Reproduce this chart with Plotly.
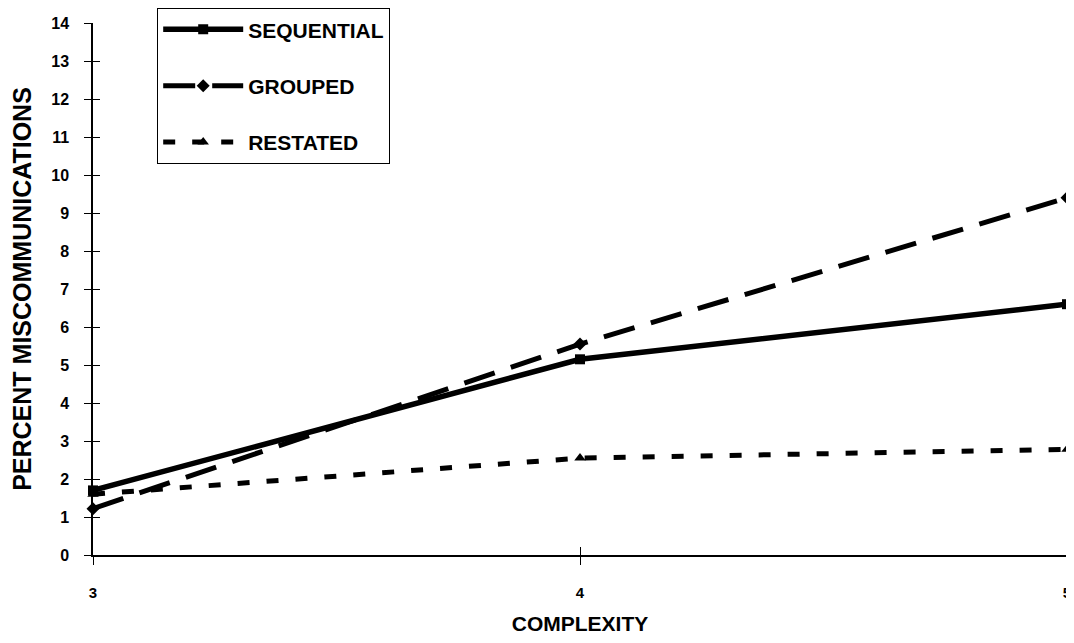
import plotly.graph_objects as go

complexity = [3, 4, 5]
sequential = [1.7, 5.15, 6.6]
grouped = [1.22, 5.55, 9.4]
restated = [1.6, 2.55, 2.78]
y_ticks = list(range(0, 15))

FONT = "Liberation Sans, Arial, sans-serif"

fig = go.Figure()
series = [
    ("SEQUENTIAL", sequential, "solid", "square", 5.5),
    ("GROUPED", grouped, "32px,17px", "diamond", 5),
    ("RESTATED", restated, "12px,17px", "triangle-up", 5),
]
for i, (name, vals, dash, sym, w) in enumerate(series):
    fig.add_trace(go.Scatter(
        x=complexity, y=vals, name=name, mode="lines+markers",
        line=dict(color="black", width=w, dash=dash),
        marker=dict(symbol=sym, size=10, color="black"),
        legendgroup=f"g{i}", cliponaxis=False,
    ))

# invisible trace on overlay axes to draw the inward half of crossing ticks
fig.add_trace(go.Scatter(x=complexity, y=[None]*3, xaxis="x2", yaxis="y2",
                         showlegend=False, hoverinfo="skip"))

xtick_font = dict(size=15, family=FONT, weight="bold")
ytick_font = dict(size=16, family=FONT, weight="bold")

W, H = 1066, 635
M_L, M_R, M_T, M_B = 85, 7, 0, 88
plot_h = 532
ydom = [0, plot_h / (H - M_T - M_B)]

fig.update_layout(
    width=W, height=H,
    margin=dict(l=M_L, r=M_R, t=M_T, b=M_B),
    plot_bgcolor="white", paper_bgcolor="white",
    font=dict(family=FONT, color="black"),
    showlegend=True,
    legend=dict(
        x=0.0657, y=1.0, xanchor="left", yanchor="top",
        bordercolor="black", borderwidth=1.2, bgcolor="white",
        font=dict(size=21, family=FONT, weight="bold"),
        tracegroupgap=26, traceorder="grouped",
        itemwidth=80,
    ),
    xaxis=dict(
        range=[3, 5], tickvals=complexity, ticktext=[str(c) for c in complexity],
        showgrid=False, zeroline=False, showline=True, linecolor="black", linewidth=1.5,
        ticks="outside", ticklen=8, tickcolor="black", tickwidth=1.2,
        ticklabelstandoff=15, automargin=False,
        tickfont=xtick_font,
        title=dict(text="COMPLEXITY", font=dict(size=21, family=FONT, weight="bold"), standoff=17),
    ),
    yaxis=dict(
        domain=ydom,
        range=[0, 14], tickvals=y_ticks, ticktext=[str(v) for v in y_ticks],
        showgrid=False, zeroline=False, showline=True, linecolor="black", linewidth=1.5,
        ticks="outside", ticklen=7, tickcolor="black", tickwidth=1.2,
        ticklabelstandoff=12, automargin=False,
        tickfont=ytick_font,
        title=dict(text="PERCENT MISCOMMUNICATIONS", font=dict(size=25, family=FONT, weight="bold"), standoff=19),
    ),
    xaxis2=dict(overlaying="x", range=[3, 5], tickvals=complexity, showticklabels=False,
                ticks="inside", ticklen=8, tickcolor="black", tickwidth=1.2,
                showgrid=False, zeroline=False, showline=False, side="bottom",
                anchor="y2", automargin=False),
    yaxis2=dict(overlaying="y", domain=ydom, range=[0, 14], tickvals=y_ticks, showticklabels=False,
                ticks="inside", ticklen=7, tickcolor="black", tickwidth=1.2,
                showgrid=False, zeroline=False, showline=False, side="left",
                anchor="x2", automargin=False),
)

fig.write_html("out.html")
